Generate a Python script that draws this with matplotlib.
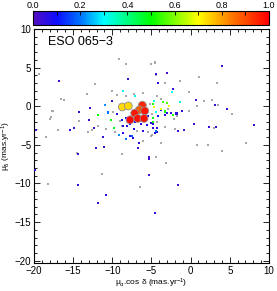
import matplotlib
matplotlib.use("Agg")
import matplotlib.pyplot as plt
import numpy as np
from matplotlib.colors import LinearSegmentedColormap
from matplotlib.ticker import MultipleLocator

plt.rcParams['font.family'] = ['Liberation Sans', 'DejaVu Sans']
plt.rcParams['mathtext.fontset'] = 'custom'
plt.rcParams['mathtext.rm'] = 'Liberation Sans'
plt.rcParams['mathtext.it'] = 'Liberation Sans'

# --- Data ---------------------------------------------------------------
# field stars without membership (tiny gray dots)
gray_x = [-19.32, -12.17, -13.19, -16.59, -16.21, -17.66, -17.96, -14.25, -11.79, -10.80,
          -18.51, -14.55, -8.72, -4.38, -3.10, -11.32, -18.17, -6.42, 4.05, -5.10,
          -4.51, -3.23, -1.32, 1.11, 3.33, -0.17, 1.75, 2.73, 3.50, 5.33,
          2.95, -0.17, -2.08, -5.02, -3.74, 0.86, 2.26, 7.11, -3.10, -4.89,
          -9.11, -4.55, -8.29, -17.87, -17.57, -16.97, -4.46, -13.07, -12.63, 0.78,
          -10.08, -9.44, -8.25, -7.23, -6.04, -4.33, -3.82, -5.19, -4.97, -4.33,
          -8.80, -9.66, -6.88, -5.40, -2.85, -1.78, -1.99, -7.74, -6.04, -9.02,
          -3.27, -9.87]
gray_y = [4.23, 2.82, 1.54, 0.90, 0.77, -0.68, -1.67, -1.96, -2.53, -2.95,
          -3.94, -6.06, -6.19, -6.58, -7.40, -8.76, -10.09, -10.47, -5.77, 5.51,
          5.60, 3.04, 3.24, 3.76, 3.04, 1.83, 0.64, 0.86, 0.17, -1.06,
          -2.86, -0.64, -1.67, -3.81, -4.78, -5.00, -4.96, -4.78, -7.31, -3.72,
          6.15, 5.73, 5.51, -1.45, -0.60, -3.08, 4.10, -3.29, -3.04, 0.04,
          1.96, 1.41, 1.32, 1.54, 1.67, 1.32, 0.90, 0.26, -1.03, -2.09,
          -2.53, -3.37, -3.17, -3.37, -0.38, -1.24, -2.95, -3.81, -4.45, -1.88,
          -2.73, -0.81]

# stars with membership probabilities (small squares)
star_x = [-16.81, 3.97, -7.96, -4.46, -3.05, -4.16, -2.29, 0.65, 3.08, 4.69,
          8.06, -14.21, -12.98, -14.93, -15.40, -12.85, -12.30, -11.15, -12.08, -11.02,
          -6.68, -6.59, -5.27, -1.65, -0.84, 0.43, 2.35, 3.20, -9.44, -14.42,
          -5.31, -5.27, -14.42, -1.61, -10.84, -11.78, -4.59, -19.74, -10.00, -1.10,
          -1.78, -4.33, -4.80, -19.90,
          -8.80, -8.25, -8.59, -8.08, -7.74, -7.32, -6.37, -5.53, -5.10, -4.76,
          -4.33, -4.13, -3.27, -3.05, -2.54, -1.86, -3.82, -7.23, -7.36, -7.74,
          -6.12, -4.55, -8.67, -7.10, -5.40,
          -8.25, -7.48, -9.10, -10.93, -10.55, -4.42,
          -8.67, -4.67, -1.39, -2.37, -4.42, -7.10,
          -11.87, -10.20, -9.82, -4.76, -3.49, -3.31, -4.84, -2.21, -4.76, -3.05,
          -4.67, -2.80, -3.82]
star_y = [3.24, 5.17, 3.55, 4.14, 4.32, 3.04, 2.18, 0.86, 0.13, -0.30,
          -2.40, -0.73, -1.79, -2.86, -3.04, -0.26, -2.86, -3.94, -5.42, -5.30,
          -5.42, -4.78, -6.58, -3.17, -3.08, -2.35, -2.65, -2.73, -1.03, -6.15,
          -6.79, -8.88, -10.22, -10.22, -11.45, -12.52, -13.85, -3.08, 0.68, -0.64,
          -0.94, -3.33, -2.82, -8.30,
          -1.79, -1.58, -2.60, -2.60, -2.31, -1.92, -2.35, -2.44, -2.18, -2.31,
          -2.86, -1.32, -1.15, -0.90, -0.90, -0.94, -0.47, -2.95, -4.06, -3.81,
          -3.17, -3.46, -3.50, -2.09, -1.24,
          -4.23, -3.80, -3.72, 0.13, -0.81, -3.17,
          1.96, 0.73, 0.55, 1.83, -0.73, 1.32,
          -1.15, -1.76, -2.86, 0.26, 0.55, -0.68, -1.50, -1.15, -2.09, 0.47,
          -0.13, 0.00, -0.35]
star_p = [0.02, 0.03, 0.03, 0.04, 0.03, 0.05, 0.04, 0.03, 0.04, 0.03,
          0.03, 0.04, 0.03, 0.03, 0.04, 0.03, 0.02, 0.05, 0.04, 0.03,
          0.03, 0.04, 0.03, 0.04, 0.03, 0.03, 0.04, 0.03, 0.05, 0.03,
          0.03, 0.03, 0.04, 0.03, 0.04, 0.03, 0.04, 0.03, 0.04, 0.05,
          0.04, 0.06, 0.05, 0.03,
          0.08, 0.10, 0.06, 0.07, 0.10, 0.05, 0.06, 0.08, 0.07, 0.05,
          0.06, 0.08, 0.07, 0.06, 0.05, 0.06, 0.08, 0.07, 0.05, 0.06,
          0.07, 0.06, 0.08, 0.09, 0.07,
          0.20, 0.18, 0.22, 0.22, 0.20, 0.21,
          0.30, 0.32, 0.33, 0.30, 0.31, 0.32,
          0.50, 0.50, 0.48, 0.52, 0.55, 0.50, 0.48, 0.52, 0.50, 0.56,
          0.68, 0.70, 0.68]

# high-probability members (large circles)
mem_x = [-8.72, -7.96, -6.17, -6.55, -5.86, -7.14, -7.74, -6.76, -5.95]
mem_y = [-0.09, 0.04, 0.13, -0.47, -0.60, -0.90, -1.76, -1.58, -1.58]
mem_p = [0.74, 0.74, 0.95, 0.88, 0.97, 0.97, 1.00, 0.98, 0.98]

cluster_name = "ESO 065\u22123"

# --- Colormap -----------------------------------------------------------
cmap = LinearSegmentedColormap.from_list('idl', [
    (0.00, (0.33, 0.05, 0.75)),
    (0.10, (0.05, 0.05, 1.00)),
    (0.20, (0.00, 0.45, 1.00)),
    (0.30, (0.00, 1.00, 1.00)),
    (0.50, (0.00, 1.00, 0.00)),
    (0.70, (1.00, 1.00, 0.00)),
    (0.85, (1.00, 0.45, 0.00)),
    (1.00, (1.00, 0.00, 0.00)),
])

# --- Figure -------------------------------------------------------------
fig = plt.figure(figsize=(2.77, 2.91), dpi=100)
ax = fig.add_axes([0.1227, 0.0962, 0.8484, 0.8041])
cax = fig.add_axes([0.1191, 0.914, 0.8520, 0.048])

ax.scatter(gray_x, gray_y, s=0.7, c='#a8a8a8', marker='s', linewidths=0, zorder=2)
ax.scatter(star_x, star_y, s=2.2, c=star_p, cmap=cmap, vmin=0, vmax=1,
           marker='s', linewidths=0, zorder=3)
sc = ax.scatter(mem_x, mem_y, s=32, c=mem_p, cmap=cmap, vmin=0, vmax=1,
                marker='o', edgecolors='#909090', linewidths=0.6, zorder=4)

ax.set_xlim(-20, 10)
ax.set_ylim(-20.3, 10)
ax.xaxis.set_major_locator(MultipleLocator(5))
ax.xaxis.set_minor_locator(MultipleLocator(1))
ax.yaxis.set_major_locator(MultipleLocator(5))
ax.yaxis.set_minor_locator(MultipleLocator(1))
ax.tick_params(which='both', direction='in', top=True, right=True, labelsize=7, width=0.6, pad=2)
ax.tick_params(which='major', length=4)
ax.tick_params(which='minor', length=2)
for s in ax.spines.values():
    s.set_linewidth(0.8)

ax.set_xlabel('$\\mu_{\\alpha}$.cos \u03b4 (mas.yr$^{-1}$)', fontsize=6, labelpad=1)
ax.set_ylabel('$\\mu_{\\delta}$ (mas.yr$^{-1}$)', fontsize=6, labelpad=1)
ax.text(-18.2, 8.3, cluster_name, fontsize=9, ha='left', va='center')

cb = fig.colorbar(sc, cax=cax, orientation='horizontal')
cb.set_ticks([0, 0.2, 0.4, 0.6, 0.8, 1.0])
cb.set_ticklabels(['0.0', '0.2', '0.4', '0.6', '0.8', '1.0'])
cax.xaxis.set_ticks_position('top')
cax.xaxis.set_label_position('top')
cax.xaxis.set_minor_locator(MultipleLocator(0.1))
cax.tick_params(which='both', direction='in', labelsize=6.5, width=0.6, length=3, pad=1)
cb.outline.set_linewidth(0.8)

fig.savefig('out.png', dpi=100)
